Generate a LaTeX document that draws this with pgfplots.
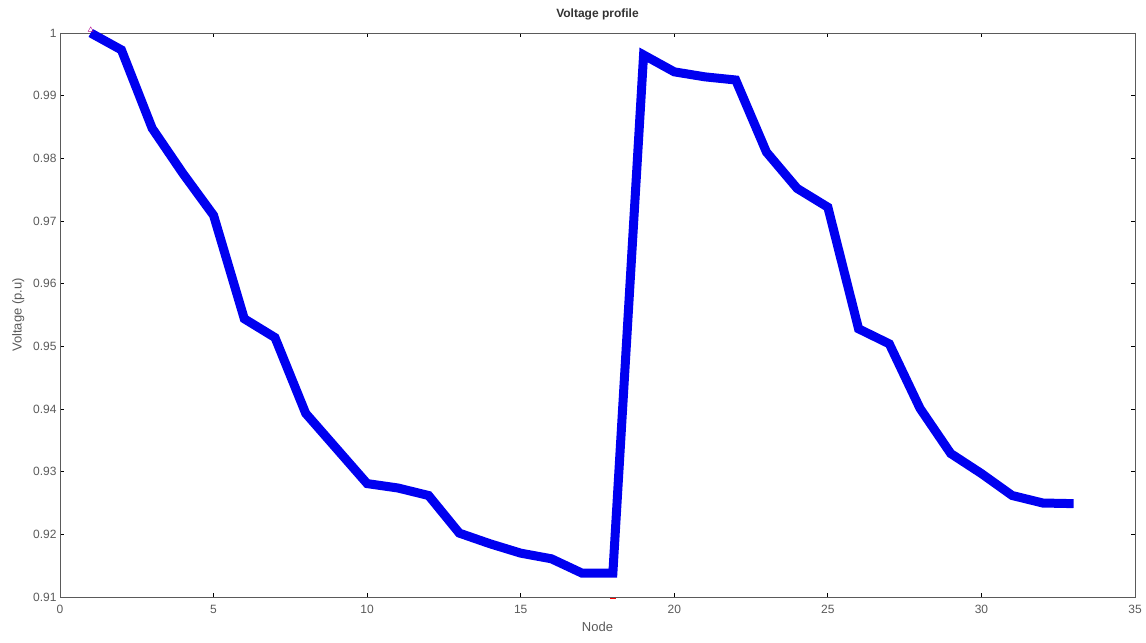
\documentclass[border=0pt]{standalone}
\usepackage{fontspec}
\setmainfont{Liberation Sans}
\usepackage{pgfplots}
\pgfplotsset{compat=1.18}
\definecolor{axisgray}{RGB}{90,90,90}
\definecolor{lineblue}{RGB}{0,0,240}

\begin{document}
\begin{tikzpicture}
\begin{axis}[
    scale only axis,
    width=1075pt, height=564pt,
    xmin=0, xmax=35, ymin=0.91, ymax=1,
    xtick={0,5,...,35},
    ytick={0.91,0.92,...,1.001},
    /pgf/number format/assume math mode=true,
    /pgf/number format/fixed,
    /pgf/number format/precision=2,
    yticklabel style={/pgf/number format/fixed, /pgf/number format/precision=2},
    tick label style={font=\fontsize{12}{14}\selectfont, text=axisgray},
    xticklabel style={yshift=-5pt},
    axis line style={axisgray, line width=0.8pt},
    tick style={black, line width=0.8pt},
    tick align=inside,
    major tick length=4pt,
    title={\textbf{Voltage profile}},
    title style={font=\fontsize{12}{14}\selectfont, text=black!80, yshift=3pt},
    xlabel={Node},
    ylabel={Voltage (p.u)},
    label style={font=\fontsize{13}{15}\selectfont, text=axisgray},
    xlabel style={yshift=-1pt},
    ylabel style={yshift=2pt},
    clip=false,
]
\addplot[lineblue, line width=9pt, line join=miter, miter limit=2] coordinates {
    (1,1.0000) (2,0.9973) (3,0.9848) (4,0.9776) (5,0.9709)
    (6,0.9544) (7,0.9514) (8,0.9393) (9,0.9337) (10,0.9281)
    (11,0.9274) (12,0.9262) (13,0.9202) (14,0.9185) (15,0.9170)
    (16,0.9161) (17,0.9138) (18,0.9138) (19,0.9965) (20,0.9938)
    (21,0.9930) (22,0.9925) (23,0.9810) (24,0.9752) (25,0.9722)
    (26,0.9528) (27,0.9504) (28,0.9401) (29,0.9329) (30,0.9297)
    (31,0.9262) (32,0.9250) (33,0.9249)
};
\addplot[only marks, mark=triangle, magenta!70!blue, mark size=3pt] coordinates {(1,1.0005)};
\addplot[only marks, mark=-, red, mark size=3pt, line width=1pt] coordinates {(18,0.9098)};
\end{axis}
\path (current axis.south west)+(-60pt,-45pt) rectangle ([shift={(11pt,33pt)}]current axis.north east);
\end{tikzpicture}
\end{document}
